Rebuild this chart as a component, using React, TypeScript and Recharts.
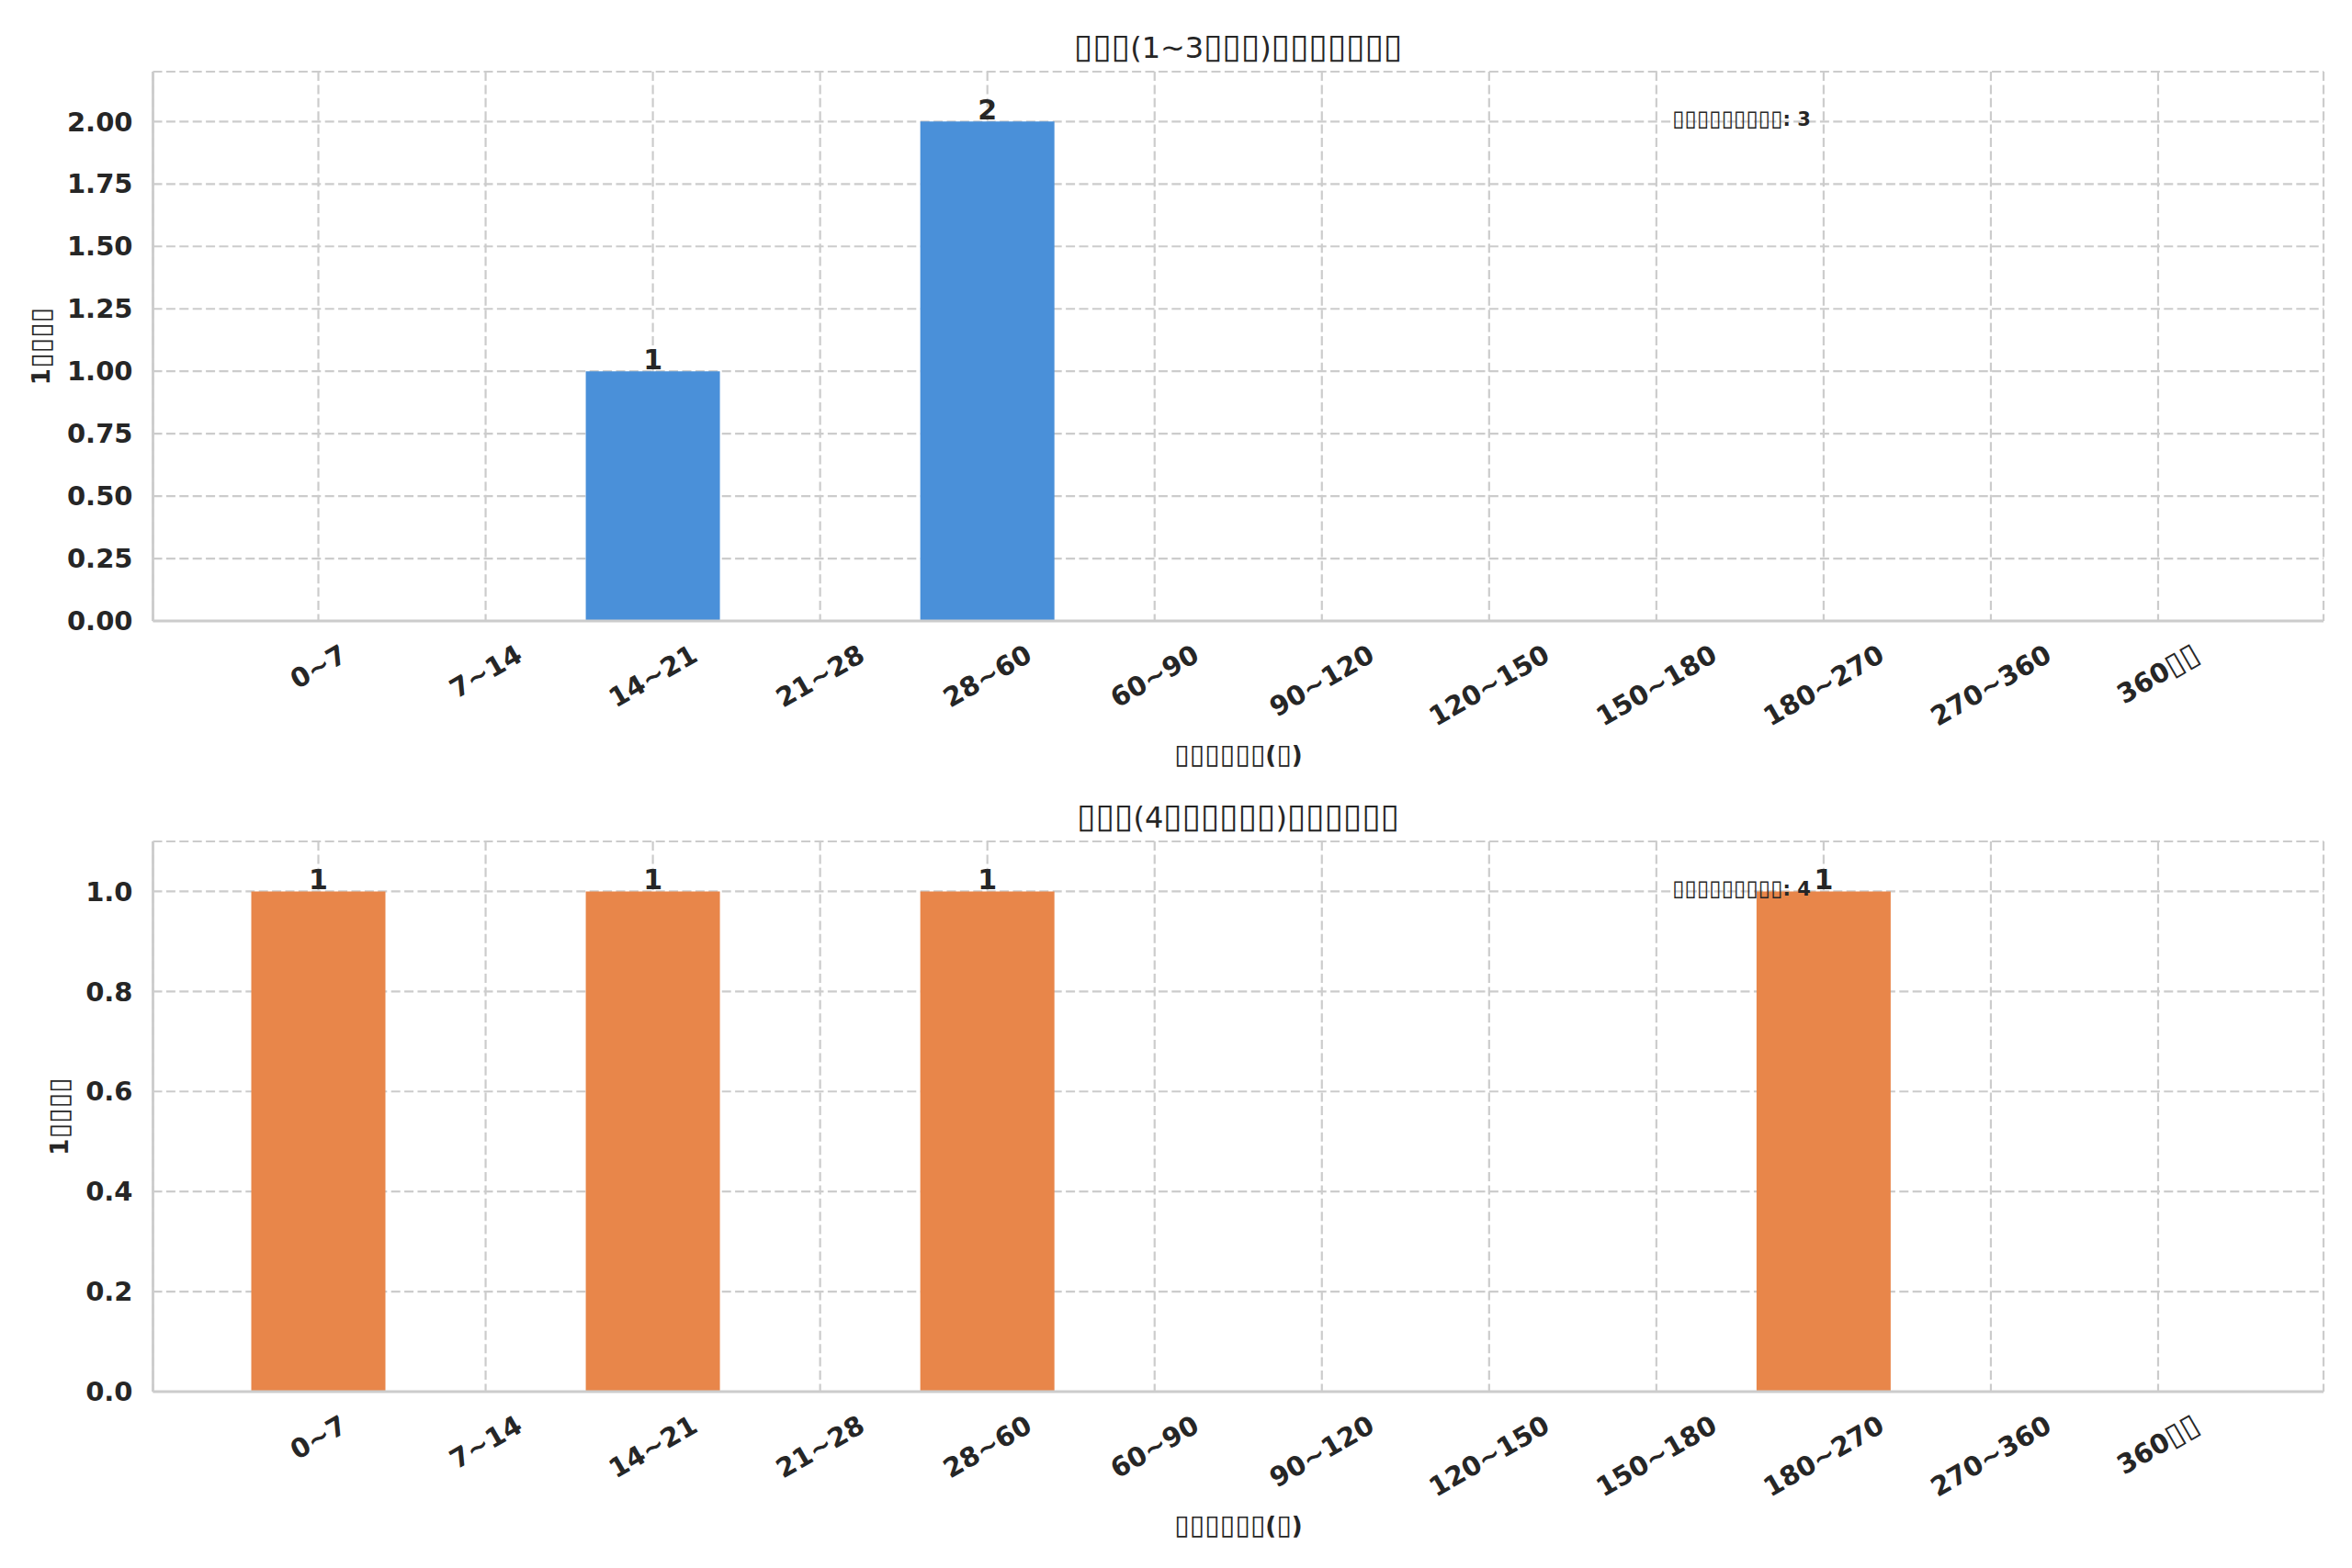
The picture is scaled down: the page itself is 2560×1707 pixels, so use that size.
import React from 'react';
import { BarChart, Bar, XAxis, YAxis, CartesianGrid, LabelList } from 'recharts';

const B = '\u25AF';
const box = (n: number) => B.repeat(n);

const categories = ['0~7', '7~14', '14~21', '21~28', '28~60', '60~90', '90~120', '120~150', '150~180', '180~270', '270~360', `360${box(2)}`];
const lowFreqCounts = [0, 0, 1, 0, 2, 0, 0, 0, 0, 0, 0, 0];
const highFreqCounts = [1, 0, 1, 0, 1, 0, 0, 0, 0, 1, 0, 0];
const lowTicks = [0, 0.25, 0.5, 0.75, 1.0, 1.25, 1.5, 1.75, 2.0];
const highTicks = [0, 0.2, 0.4, 0.6, 0.8, 1.0];
const lowDomain = [0, 2.2];
const highDomain = [0, 1.1];
const lowTitle = `${box(3)}(1~3${box(3)})${box(7)}`;
const highTitle = `${box(3)}(4${box(6)})${box(6)}`;
const xLabel = `${box(6)}(${B})`;
const yLabel = `1${box(4)}`;
const annotationLabel = box(9);
const lowTotal = 3;
const highTotal = 4;

const FONT = '"DejaVu Sans", sans-serif';
const INK = '#262626';
const GRID = '#cccccc';
const BLUE = '#4a90d9';
const ORANGE = '#e8864a';

const CHART_W = 2560;
const MARGIN_RIGHT = 31;
const BOX_SCALE = 1.157;
const MID = 0.35; // baseline offset from visual centre, in em

const EM: Record<string, number> = { '0': 0.696, '1': 0.696, '2': 0.696, '3': 0.696, '4': 0.696, '5': 0.696, '6': 0.696, '7': 0.696, '8': 0.696, '9': 0.696, '~': 0.838, '.': 0.38 };
const emWidth = (s: string) => Array.from(s).reduce((a, c) => a + (c === B ? 0.625 : EM[c] ?? 0.6), 0);

function mixed(s: string, weight: string, fs: number) {
  const runs = s.split(/(\u25AF+)/).filter(Boolean);
  return runs.map((r, i) =>
    r[0] === B ? (
      <tspan key={i} fontWeight="normal" fontSize={fs * BOX_SCALE}>{r}</tspan>
    ) : (
      <tspan key={i} fontWeight={weight} fontSize={fs}>{r}</tspan>
    )
  );
}

const TICK_FS = 29;

const XTick = (props: any) => {
  const { x, y, payload } = props;
  const label = String(payload.value);
  const w = emWidth(label) * TICK_FS;
  const h = 1.17 * TICK_FS;
  const cy = y + 19 + (w * 0.5 + h * 0.866) / 2;
  return (
    <text x={x} y={cy + MID * TICK_FS} transform={`rotate(-30 ${x} ${cy})`} textAnchor="middle"
      fontFamily={FONT} fontSize={TICK_FS} fill={INK}>
      {mixed(label, 'bold', TICK_FS)}
    </text>
  );
};

const makeYTick = (decimals: number) => (props: any) => {
  const { x, y, payload } = props;
  return (
    <text x={x} y={y + MID * TICK_FS} textAnchor="end" fontFamily={FONT} fontSize={TICK_FS} fontWeight="bold" fill={INK}>
      {Number(payload.value).toFixed(decimals)}
    </text>
  );
};

const BarValue = (props: any) => {
  const { x, y, width, value } = props;
  if (!value) return null;
  return (
    <text x={Number(x) + Number(width) / 2} y={Number(y) - 2} textAnchor="middle" fontFamily={FONT} fontSize={30} fontWeight="bold" fill={INK}>
      {value}
    </text>
  );
};

interface ChartProps {
  values: number[];
  color: string;
  ticks: number[];
  domain: number[];
  decimals: number;
  title: string;
  total: number;
  height: number;
  marginTop: number;
  marginBottom: number;
}

function FreqChart({ values, color, ticks, domain, decimals, title, total, height, marginTop, marginBottom }: ChartProps) {
  const data = categories.map((name, i) => ({ name, value: values[i] }));
  const tickLabelW = emWidth((ticks[ticks.length - 1]).toFixed(decimals)) * TICK_FS;
  const LABEL_FS = 26;

  const XLabelContent = (p: any) => {
    const vb = p.viewBox || {};
    return (
      <text x={vb.x + vb.width / 2} y={vb.y + 146 + MID * LABEL_FS} textAnchor="middle" fontFamily={FONT} fontSize={LABEL_FS} fill={INK}>
        {mixed(xLabel, 'bold', LABEL_FS)}
      </text>
    );
  };

  const YLabelContent = (p: any) => {
    const vb = p.viewBox || {};
    const plotLeft = vb.x + vb.width;
    const plotTop = vb.y;
    const plotW = CHART_W - MARGIN_RIGHT - plotLeft;
    const cx = plotLeft - 22 - tickLabelW - 28;
    const cy = vb.y + vb.height / 2;
    return (
      <g>
        <text x={cx} y={cy + MID * LABEL_FS} transform={`rotate(-90 ${cx} ${cy})`} textAnchor="middle" fontFamily={FONT} fontSize={LABEL_FS} fill={INK}>
          {mixed(yLabel, 'bold', LABEL_FS)}
        </text>
        <text x={plotLeft + plotW / 2} y={plotTop - 15} textAnchor="middle" fontFamily={FONT} fontSize={32} fill={INK}>
          {mixed(title, 'normal', 32)}
        </text>
        <text x={plotLeft + plotW * 0.7} y={plotTop + 59} textAnchor="start" fontFamily={FONT} fontSize={21} fill={INK}>
          {mixed(annotationLabel, 'bold', 21)}
          <tspan fontWeight="bold">{`: ${total}`}</tspan>
        </text>
      </g>
    );
  };

  const spine = { stroke: GRID, strokeWidth: 2.8 };
  const pad = { left: 89, right: 89 };

  return (
    <BarChart width={CHART_W} height={height} data={data} margin={{ top: marginTop, right: MARGIN_RIGHT, bottom: marginBottom, left: 46.5 }}>
      <CartesianGrid stroke={GRID} strokeWidth={2.2} strokeDasharray="10 4.4" />
      <XAxis dataKey="name" type="category" interval={0} padding={pad} height={120} tickSize={0} tickMargin={0}
        tickLine={false} axisLine={spine} tick={(p: any) => <XTick {...p} />} label={{ content: XLabelContent }} />
      <XAxis xAxisId="top" dataKey="name" orientation="top" padding={pad} height={0} tick={false} tickLine={false}
        axisLine={spine} />
      <YAxis type="number" domain={domain} ticks={ticks} width={120} tickSize={0} tickMargin={22} tickLine={false}
        axisLine={spine} allowDataOverflow tick={makeYTick(decimals)} label={{ content: YLabelContent }} />
      <YAxis yAxisId="right" orientation="right" type="number" domain={domain} width={0} tick={false} tickLine={false} axisLine={spine} />
      <Bar dataKey="value" fill={color} barSize={146} isAnimationActive={false}>
        <LabelList dataKey="value" content={BarValue} />
      </Bar>
    </BarChart>
  );
}

export default function App() {
  return (
    <div style={{ position: 'absolute', left: 0, top: 0, width: 2560, height: 1707, background: '#ffffff' }}>
      <FreqChart values={lowFreqCounts} color={BLUE} ticks={lowTicks} domain={lowDomain} decimals={2} title={lowTitle}
        total={lowTotal} height={853} marginTop={78} marginBottom={57} />
      <FreqChart values={highFreqCounts} color={ORANGE} ticks={highTicks} domain={highDomain} decimals={1} title={highTitle}
        total={highTotal} height={854} marginTop={63} marginBottom={72} />
    </div>
  );
}
